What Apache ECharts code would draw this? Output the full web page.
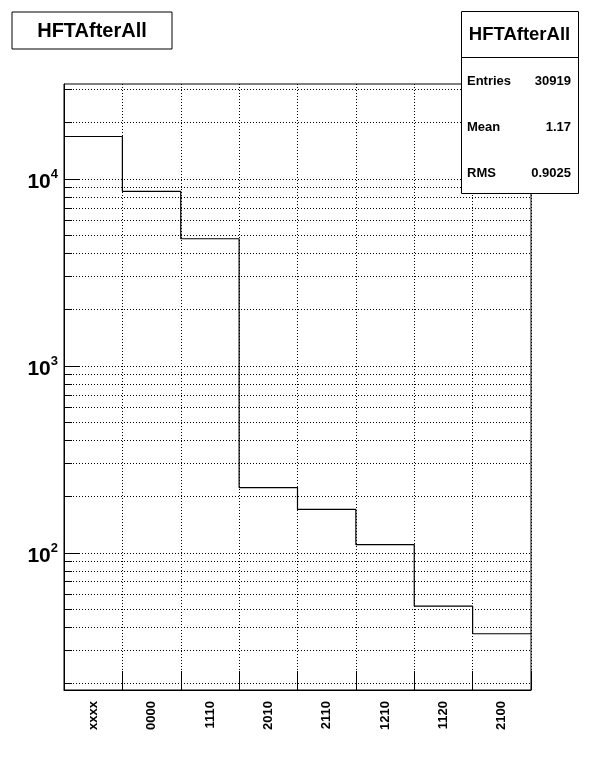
<!DOCTYPE html>
<html>
<head>
<meta charset="utf-8">
<script src="https://cdn.jsdelivr.net/npm/echarts@6/dist/echarts.min.js"></script>
<style>
html,body{margin:0;padding:0;background:#fff;}
#chart{width:596px;height:774px;}
</style>
</head>
<body>
<div id="chart"></div>
<script>
const histTitle = 'HFTAfterAll';
const categories = ['xxxx', '0000', '1110', '2010', '2110', '1210', '1120', '2100'];
const counts = [16914, 8610, 4800, 224, 171, 111, 52, 37];
const yMajorTicks = [100, 1000, 10000];
const yMinorTicks = [20, 30, 40, 50, 60, 70, 80, 90,
  200, 300, 400, 500, 600, 700, 800, 900,
  2000, 3000, 4000, 5000, 6000, 7000, 8000, 9000,
  20000, 30000];
const statsLabels = ['Entries', 'Mean', 'RMS'];
const statsValues = ['30919', '1.17', '0.9025'];
const yMin = 18.5, yMax = 32300;

const FONT = '"Liberation Sans", Arial, Helvetica, sans-serif';
const chart = echarts.init(document.getElementById('chart'), null, {renderer: 'canvas'});

const nBins = categories.length;
const stepData = counts.map((c, i) => [i, c]).concat([[nBins, counts[nBins - 1]]]);
const tickData = yMajorTicks.map(v => [0, v, 1]).concat(yMinorTicks.map(v => [0, v, 0]));

function crisp(v) { return Math.round(v - 0.5) + 0.5; }

const statsRowY = [81, 127, 173];

const option = {
  animation: false,
  backgroundColor: '#fff',
  grid: {left: 64, top: 84, width: 467, height: 606, show: true, borderColor: '#000', borderWidth: 1, backgroundColor: 'transparent'},
  xAxis: [{
    type: 'value', min: 0, max: nBins, interval: 1,
    axisLine: {show: true, lineStyle: {color: '#000', width: 1}},
    axisTick: {show: true, inside: true, length: 19, lineStyle: {color: '#000', width: 1}},
    axisLabel: {show: false},
    splitLine: {show: true, lineStyle: {color: '#000', width: 1, type: [1, 2]}}
  }, {
    type: 'category', data: categories, position: 'bottom', boundaryGap: true,
    axisLine: {show: false}, axisTick: {show: false}, splitLine: {show: false},
    axisLabel: {show: true, rotate: 90, margin: 11, color: '#000', fontFamily: FONT, fontWeight: 'bold', fontSize: 13, interval: 0}
  }],
  yAxis: [{
    type: 'log', logBase: 10, min: yMin, max: yMax,
    axisLine: {show: true, lineStyle: {color: '#000', width: 1}},
    axisTick: {show: false},
    splitLine: {show: false},
    axisLabel: {
      show: true, margin: 6, showMinLabel: false, showMaxLabel: false, color: '#000',
      formatter: function (v) {
        const e = Math.round(Math.log10(v));
        if (Math.abs(Math.pow(10, e) - v) > 1e-6 * v) return '';
        return '{b|10}{s|' + e + '}';
      },
      rich: {
        b: {fontFamily: FONT, fontWeight: 'bold', fontSize: 21, color: '#000', lineHeight: 22, padding: [6, 0, 0, 0]},
        s: {fontFamily: FONT, fontWeight: 'bold', fontSize: 13, color: '#000', lineHeight: 13, verticalAlign: 'top'}
      }
    }
  }],
  series: [{
    type: 'custom', xAxisIndex: 0, yAxisIndex: 0, z: 1, silent: true,
    encode: {x: 0, y: 1},
    data: tickData,
    renderItem: function (params, api) {
      const v = api.value(1), major = api.value(2);
      const p0 = api.coord([0, v]);
      const p1 = api.coord([nBins, v]);
      const y = crisp(p0[1]);
      return {type: 'group', children: [
        {type: 'line', shape: {x1: p0[0], y1: y, x2: p1[0], y2: y}, style: {stroke: '#000', lineWidth: 1, lineDash: [1, 2]}},
        {type: 'line', shape: {x1: p0[0], y1: y, x2: p0[0] + (major ? 15 : 8), y2: y}, style: {stroke: '#000', lineWidth: 1}}
      ]};
    }
  }, {
    type: 'line', xAxisIndex: 0, yAxisIndex: 0, z: 3, silent: true,
    step: 'end', symbol: 'none', data: stepData,
    lineStyle: {color: '#000', width: 1.2}
  }],
  graphic: [
    {type: 'rect', z: 100, shape: {x: 12, y: 12, width: 160, height: 37}, style: {fill: '#fff', stroke: '#000', lineWidth: 1}},
    {type: 'text', z: 101, x: 92, y: 31, style: {text: histTitle, font: 'bold 20px ' + FONT, fill: '#000', align: 'center', verticalAlign: 'middle'}},
    {type: 'rect', z: 100, shape: {x: 461.5, y: 11.5, width: 117, height: 182}, style: {fill: '#fff', stroke: '#000', lineWidth: 1}},
    {type: 'line', z: 101, shape: {x1: 461.5, y1: 57.5, x2: 578.5, y2: 57.5}, style: {stroke: '#000', lineWidth: 1}},
    {type: 'text', z: 101, x: 519.5, y: 35, style: {text: histTitle, font: 'bold 18.5px ' + FONT, fill: '#000', align: 'center', verticalAlign: 'middle'}}
  ].concat(statsLabels.map((t, i) => ({type: 'text', z: 101, x: 467, y: statsRowY[i], style: {text: t, font: 'bold 13px ' + FONT, fill: '#000', align: 'left', verticalAlign: 'middle'}})))
   .concat(statsValues.map((t, i) => ({type: 'text', z: 101, x: 571, y: statsRowY[i], style: {text: t, font: 'bold 13px ' + FONT, fill: '#000', align: 'right', verticalAlign: 'middle'}})))
};
chart.setOption(option);
</script>
</body>
</html>
